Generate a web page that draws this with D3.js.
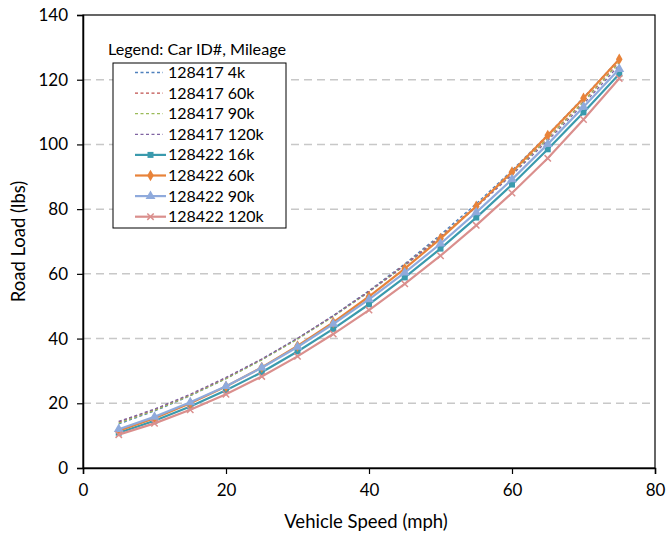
<!DOCTYPE html>
<html><head><meta charset="utf-8">
<script src="https://cdn.jsdelivr.net/npm/d3@7"></script>
<style>body{margin:0;background:#fff}svg{display:block}text{font-family:Lato,"Open Sans",sans-serif;fill:#000}</style>
</head><body>
<svg id="c" width="667" height="535"></svg>
<script>
const speeds = [5,10,15,20,25,30,35,40,45,50,55,60,65,70,75];
const seriesNames = ["128417 4k","128417 60k","128417 90k","128417 120k","128422 16k","128422 60k","128422 90k","128422 120k"];
const s128417_4k   = [13.6,17.6,22.3,27.6,33.5,40.0,47.1,54.8,63.1,72.1,81.7,92.0,103.0,114.5,126.4];
const s128417_60k  = [14.2,18.0,22.6,27.8,33.6,40.0,47.0,54.6,62.8,71.6,81.0,91.1,101.9,113.3,125.5];
const s128417_90k  = [13.9,17.8,22.4,27.6,33.4,39.8,46.8,54.4,62.6,71.4,80.9,91.0,101.8,113.2,125.3];
const s128417_120k = [14.4,18.2,22.8,28.0,33.7,40.1,47.0,54.5,62.6,71.3,80.6,90.6,101.2,112.5,124.5];
const s128422_16k  = [10.9,14.6,19.0,24.0,29.6,36.0,43.0,50.6,58.9,67.8,77.4,87.6,98.5,109.9,121.8];
const s128422_60k  = [11.5,15.4,20.0,25.2,31.1,37.7,45.0,53.0,61.6,70.9,80.9,91.5,102.8,114.3,126.3];
const s128422_90k  = [12.0,15.8,20.3,25.3,31.0,37.4,44.5,52.1,60.4,69.3,79.0,89.2,100.1,111.6,123.3];
const s128422_120k = [10.3,13.8,18.0,22.8,28.3,34.5,41.4,48.8,56.9,65.6,75.0,85.0,95.7,107.7,120.4];
const xTicks = [0,20,40,60,80];
const yTicks = [0,20,40,60,80,100,120,140];

const allSeries = [s128417_4k,s128417_60k,s128417_90k,s128417_120k,s128422_16k,s128422_60k,s128422_90k,s128422_120k];
const colors = ["#4F81BD","#C0504D","#9BBB59","#8064A2","#3A9AAD","#E8833A","#8FAADC","#DA8F8D"];
const dashed = [true,true,true,true,false,false,false,false];
const markers = [null,null,null,null,"square","diamond","triangle","x"];

const svg = d3.select("#c");
const L=83,R=655,T=15,B=468;
const x = d3.scaleLinear().domain([0,80]).range([L,R]);
const y = d3.scaleLinear().domain([0,140]).range([B,T]);

svg.append("g").selectAll("line").data(yTicks.filter(d=>d>0&&d<140)).join("line")
  .attr("x1",L).attr("x2",R).attr("y1",d=>y(d)).attr("y2",d=>y(d))
  .attr("stroke","#c8c8c8").attr("stroke-width",1.5).attr("stroke-dasharray","8,5");

svg.append("rect").attr("x",L).attr("y",T).attr("width",R-L).attr("height",B-T)
  .attr("fill","none").attr("stroke","#000").attr("stroke-width",1.2);

const xa = svg.append("g").attr("transform",`translate(0,${B})`)
  .call(d3.axisBottom(x).tickValues(xTicks).tickSize(6).tickPadding(10));
const ya = svg.append("g").attr("transform",`translate(${L},0)`)
  .call(d3.axisLeft(y).tickValues(yTicks).tickSize(6).tickPadding(9));
[xa,ya].forEach(a=>{
  a.select(".domain").attr("stroke","#000").attr("stroke-width",1.5);
  a.selectAll(".tick line").attr("stroke","#000").attr("stroke-width",1.2);
  a.selectAll("text").style("font-family","Lato,'Open Sans',sans-serif").style("font-size","17px").attr("fill","#000");
});

svg.append("text").attr("x",(L+R)/2-3).attr("y",528).attr("text-anchor","middle")
  .style("font-size","18.5px").text("Vehicle Speed (mph)");
svg.append("text").attr("transform",`translate(25,${(T+B)/2}) rotate(-90)`).attr("text-anchor","middle")
  .style("font-size","18.5px").text("Road Load (lbs)");

const line = d3.line().x((d,i)=>x(speeds[i])).y(d=>y(d));

function drawMarker(g,type,cx,cy,color,scale){
  const k = scale||1;
  if(type==="square"){
    g.append("rect").attr("x",cx-3*k).attr("y",cy-3*k).attr("width",6*k).attr("height",6*k).attr("fill",color);
  } else if(type==="diamond"){
    g.append("path").attr("d",d3.symbol(d3.symbolDiamond,38*k*k)()).attr("transform",`translate(${cx},${cy})`).attr("fill",color);
  } else if(type==="triangle"){
    g.append("path").attr("d",d3.symbol(d3.symbolTriangle,42*k*k)()).attr("transform",`translate(${cx},${cy})`).attr("fill",color);
  } else if(type==="x"){
    const s=3.2*k;
    g.append("path").attr("d",`M${cx-s},${cy-s}L${cx+s},${cy+s}M${cx-s},${cy+s}L${cx+s},${cy-s}`)
      .attr("stroke",color).attr("stroke-width",1.5).attr("fill","none");
  }
}

allSeries.forEach((vals,si)=>{
  const g = svg.append("g");
  g.append("path").datum(vals).attr("d",line).attr("fill","none")
    .attr("stroke",colors[si]).attr("stroke-width",dashed[si]?1.3:2.2)
    .attr("stroke-dasharray",dashed[si]?"3,2.5":null);
  if(markers[si]) vals.forEach((v,i)=>drawMarker(g,markers[si],x(speeds[i]),y(v),colors[si]));
});

svg.append("text").attr("x",108).attr("y",55).style("font-size","16.2px").text("Legend: Car ID#, Mileage");
svg.append("rect").attr("x",113).attr("y",63).attr("width",173).attr("height",165)
  .attr("fill","#fff").attr("stroke","#000").attr("stroke-width",1);
seriesNames.forEach((n,i)=>{
  const cy = 72.5 + i*20.6;
  const g = svg.append("g");
  g.append("line").attr("x1",135).attr("x2",dashed[i]?163:166).attr("y1",cy).attr("y2",cy)
    .attr("stroke",colors[i]).attr("stroke-width",dashed[i]?1.3:2.2).attr("stroke-dasharray",dashed[i]?"3,2.5":null);
  if(markers[i]) drawMarker(g,markers[i],150.5,cy,colors[i]);
  g.append("text").attr("x",168).attr("y",cy+5.5).style("font-size","16px").text(n);
});
</script>
</body></html>
